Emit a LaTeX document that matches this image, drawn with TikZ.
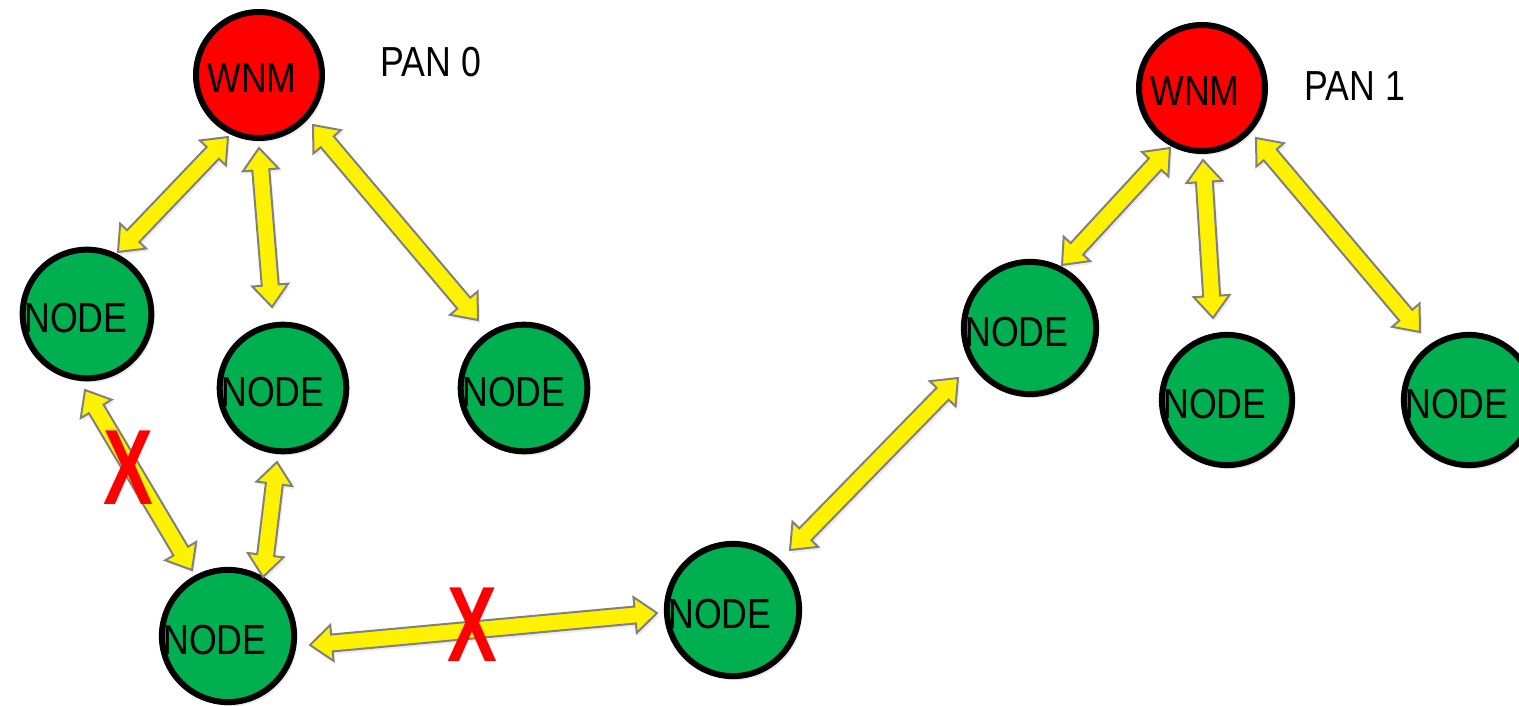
\documentclass[tikz,border=0pt]{standalone}
\usepackage{fontspec}
\setmainfont{Liberation Sans}[FakeStretch=0.85]
\usetikzlibrary{calc,shadows}
\definecolor{pptgreen}{HTML}{00B050}
\definecolor{arrowgray}{HTML}{808080}
\tikzset{
  circ/.style={circle, draw=black, line width=6pt, minimum size=126pt, inner sep=0pt,
    font=\fontsize{42}{42}\selectfont,
    drop shadow={opacity=0.18, shadow xshift=3pt, shadow yshift=-4pt}},
  wnm/.style={circ, fill=red},
  pannode/.style={circ, fill=pptgreen},
  blockarrow/.style={draw=arrowgray, line width=2pt, fill=yellow, line join=miter,
    drop shadow={opacity=0.15, shadow xshift=2pt, shadow yshift=-3pt}},
  lbl/.style={font=\fontsize{42}{42}\selectfont, inner sep=0pt},
  cross/.style={text=red, font=\fontsize{107}{107}\selectfont\bfseries, xscale=0.82, inner sep=0pt}
}
\newcommand\low[1]{\raisebox{-3pt}[30pt][0pt]{#1}}
\newcommand\dblarrow[2]{%
  \coordinate (h1) at ($(#1)!22pt!(#2)$);
  \coordinate (h2) at ($(#2)!22pt!(#1)$);
  \draw[blockarrow] (#1) -- ($(h1)!18pt!90:(#2)$) -- ($(h1)!8.5pt!90:(#2)$)
    -- ($(h2)!8.5pt!-90:(#1)$) -- ($(h2)!18pt!-90:(#1)$) -- (#2)
    -- ($(h2)!18pt!90:(#1)$) -- ($(h2)!8.5pt!90:(#1)$)
    -- ($(h1)!8.5pt!-90:(#2)$) -- ($(h1)!18pt!-90:(#2)$) -- cycle;}
\begin{document}
\begin{tikzpicture}[x=1pt,y=-1pt]
\useasboundingbox (0,0) rectangle (1519,706);
% nodes
\node[wnm] (W0) at (259,75) {\low{WNM}\kern14pt};
\node[wnm] (W1) at (1202,88) {\low{WNM}\kern14pt};
\node[pannode] (A) at (87,314) {\low{NODE}\kern22pt};
\node[pannode] (B) at (283,388) {\low{NODE}\kern20pt};
\node[pannode] (C) at (524,388) {\low{NODE}\kern20pt};
\node[pannode] (D) at (228,636) {\low{NODE}\kern26pt};
\node[pannode] (E) at (733,610) {\low{NODE}\kern26pt};
\node[pannode] (F) at (1030,328) {\low{NODE}\kern26pt};
\node[pannode] (G) at (1227,400) {\low{NODE}\kern24pt};
\node[pannode] (H) at (1469,400) {\low{NODE}\kern24pt};
\node[lbl] (P0) at (431,62) {PAN 0};
\node[lbl] (P1) at (1355,86) {PAN 1};
% arrow tips
\coordinate (a1s) at (228,137); \coordinate (a1e) at (118,252);
\coordinate (a2s) at (259,148); \coordinate (a2e) at (272,307);
\coordinate (a3s) at (313,125); \coordinate (a3e) at (478,320);
\coordinate (a4s) at (85,390);  \coordinate (a4e) at (192,570);
\coordinate (a5s) at (277,462); \coordinate (a5e) at (263,577);
\coordinate (a6s) at (310,645); \coordinate (a6e) at (657,613);
\coordinate (a7s) at (958,378); \coordinate (a7e) at (790,550);
\coordinate (a8s) at (1170,148); \coordinate (a8e) at (1062,265);
\coordinate (a9s) at (1203,160); \coordinate (a9e) at (1213,318);
\coordinate (a10s) at (1256,138); \coordinate (a10e) at (1420,332);
\dblarrow{a1s}{a1e}
\dblarrow{a2s}{a2e}
\dblarrow{a3s}{a3e}
\dblarrow{a4s}{a4e}
\dblarrow{a5s}{a5e}
\dblarrow{a6s}{a6e}
\dblarrow{a7s}{a7e}
\dblarrow{a8s}{a8e}
\dblarrow{a9s}{a9e}
\dblarrow{a10s}{a10e}
% crosses
\node[cross] (X1) at (128,468) {X};
\node[cross] (X2) at (472,625) {X};
\end{tikzpicture}
\end{document}
